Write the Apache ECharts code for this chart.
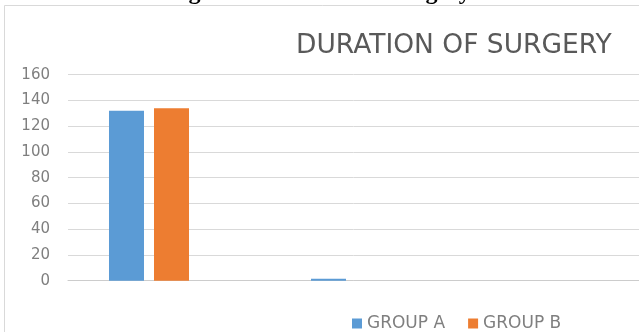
<!DOCTYPE html>
<html>
<head>
<meta charset="utf-8">
<script src="https://cdn.jsdelivr.net/npm/echarts@6/dist/echarts.min.js"></script>
<style>
html,body{margin:0;padding:0;background:#fff;}
#chart{width:639px;height:332px;}
</style>
</head>
<body>
<div id="chart"></div>
<script>
// Data
const categories = ['', '', ''];
const groupA = [132, 1.5, null];
const groupB = [134, null, null];
const seriesNames = ['GROUP A', 'GROUP B'];
const yMin = 0, yMax = 160, yInterval = 20;
const chartTitle = 'DURATION OF SURGERY';
const pageHeading = 'Figure 3: Duration of surgery';

// The category band continues past the right edge of the picture (cropped chart):
// visible part of the axis covers categories -0.5 .. xMaxVisible
const xMaxVisible = 591 / 202 - 0.5;

const toPoints = arr => arr.map((v, i) => [i, v]);

const chart = echarts.init(document.getElementById('chart'), null, {renderer: 'canvas'});
const font = '"DejaVu Sans", sans-serif';
chart.setOption({
  backgroundColor: '#ffffff',
  animation: false,
  color: ['#5b9bd5', '#ed7d31'],
  title: {
    text: chartTitle,
    left: 291, top: 28,
    textStyle: {fontFamily: font, fontSize: 26.5, fontWeight: 'normal', color: '#595959'}
  },
  graphic: [
    {type: 'rect', shape: {x: 4.5, y: 5.5, width: 800, height: 500}, style: {fill: 'none', stroke: '#d9d9d9', lineWidth: 1}, z: -10},
    {type: 'text', style: {text: pageHeading, x: 319, y: -7, textAlign: 'center', textVerticalAlign: 'middle', font: 'bold 24px "Liberation Serif", serif', fill: '#000'}}
  ],
  legend: {
    data: seriesNames,
    left: 347, top: 310,
    icon: 'rect', itemWidth: 10, itemHeight: 10, itemGap: 23,
    textStyle: {fontFamily: font, fontSize: 17, color: '#7f7f7f'}
  },
  grid: [
    {left: 48, right: 0, top: 74.7, bottom: 51.3},
    {left: 68, right: 0, top: 74.7, bottom: 51.3}
  ],
  xAxis: [
    {type: 'value', gridIndex: 0, min: -0.5, max: xMaxVisible, show: false},
    {type: 'value', gridIndex: 1, min: 0, max: 1, axisLine: {show: true, lineStyle: {color: '#cccccc'}}, axisTick: {show: false}, axisLabel: {show: false}, splitLine: {show: false}}
  ],
  yAxis: [
    {type: 'value', gridIndex: 0, min: yMin, max: yMax, interval: yInterval, show: false},
    {type: 'value', gridIndex: 1, min: yMin, max: yMax, interval: yInterval,
      axisLine: {show: false}, axisTick: {show: false},
      axisLabel: {margin: 18, fontFamily: font, fontSize: 15, color: '#7f7f7f'},
      splitLine: {lineStyle: {color: '#d9d9d9', width: 1}}}
  ],
  series: [
    {name: seriesNames[0], type: 'bar', xAxisIndex: 0, yAxisIndex: 0, data: toPoints(groupA), barWidth: 35, barGap: '28.6%'},
    {name: seriesNames[1], type: 'bar', xAxisIndex: 0, yAxisIndex: 0, data: toPoints(groupB), barWidth: 35, barGap: '28.6%'}
  ]
});
</script>
</body>
</html>
